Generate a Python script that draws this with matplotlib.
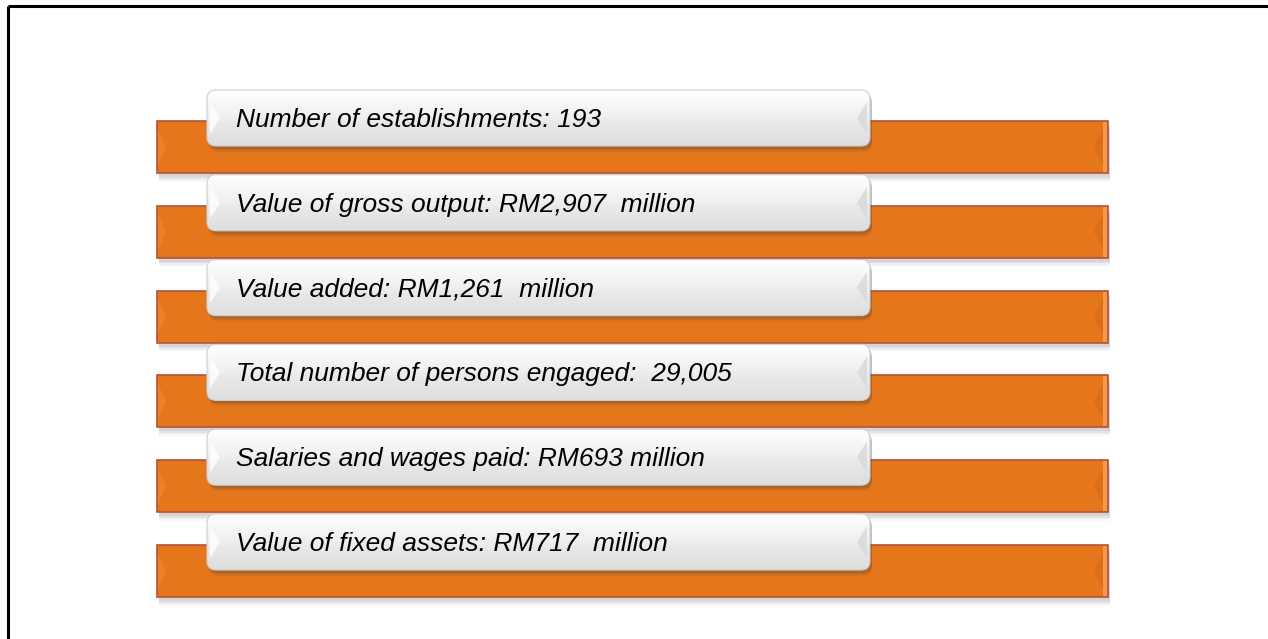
import numpy as np
import matplotlib.pyplot as plt
from matplotlib.patches import FancyBboxPatch, Polygon, Rectangle

# indicator names and the figures shown next to them
items = [
    "Number of establishments",
    "Value of gross output",
    "Value added",
    "Total number of persons engaged",
    "Salaries and wages paid",
    "Value of fixed assets",
]
values = [
    "193",
    "RM2,907  million",
    "RM1,261  million",
    " 29,005",
    "RM693 million",
    "RM717  million",
]

W, H = 1268, 639
fig = plt.figure(figsize=(W / 100, H / 100), dpi=100)
ax = fig.add_axes([0, 0, 1, 1])
ax.set_xlim(0, W)
ax.set_ylim(H, 0)
ax.axis("off")

# frame: top and left lines only
ax.plot([8, W], [6, 6], color="black", lw=2.2, solid_capstyle="butt")
ax.plot([8, 8], [6, H], color="black", lw=2.2, solid_capstyle="butt")

orange = "#E5761B"
step = 84.8
rows = np.arange(len(items))
bar_top = 121 + rows * step
box_top = 90 + rows * step
bar_h, box_h = 52, 56
bar_l, bar_w = 157, 951
box_l, box_w = 207, 663

# soft shadow under the orange bars
for k, a in enumerate([0.10, 0.08, 0.06, 0.04]):
    for t in bar_top:
        ax.add_patch(Rectangle((bar_l + 2, t + 4 + k * 1.5), bar_w, bar_h,
                               color="#606060", alpha=a, lw=0, zorder=1))

ax.barh(bar_top + bar_h / 2, bar_w, left=bar_l, height=bar_h, color=orange,
        edgecolor="#B4533A", linewidth=1.2, zorder=2)

for i, (t, bt) in enumerate(zip(bar_top, box_top)):
    # subtle bevel chevrons on the orange bar ends
    ax.add_patch(Polygon([[bar_l + 1, t + 8], [bar_l + 9, t + bar_h / 2],
                          [bar_l + 1, t + bar_h - 8]], closed=True,
                         color="#EC8027", lw=0, zorder=3))
    ax.add_patch(Rectangle((bar_l + bar_w - 5, t + 1), 4, bar_h - 2,
                           color="#F59A4A", lw=0, zorder=3))
    ax.add_patch(Polygon([[bar_l + bar_w - 5, t + 8], [bar_l + bar_w - 14, t + bar_h / 2],
                          [bar_l + bar_w - 5, t + bar_h - 8]], closed=True,
                         color="#DC6E18", lw=0, zorder=3))

    # shadow of the white box
    for k, a in enumerate([0.18, 0.12, 0.07]):
        ax.add_patch(FancyBboxPatch((box_l + 2, bt + 3 + k * 1.5), box_w, box_h,
                                    boxstyle="round,pad=0,rounding_size=9",
                                    color="#404040", alpha=a, lw=0, zorder=4))
    box = FancyBboxPatch((box_l, bt), box_w, box_h,
                         boxstyle="round,pad=0,rounding_size=9",
                         facecolor="none", edgecolor="#CFCFCF", lw=0.8, zorder=6)
    ax.add_patch(box)
    img = ax.imshow(np.vstack([np.linspace(0.0, 0.55, 40).reshape(-1, 1),
                               np.linspace(0.55, 0.72, 24).reshape(-1, 1)]),
                    cmap="Greys", vmin=0, vmax=3.2, aspect="auto",
                    extent=(box_l, box_l + box_w, bt + box_h, bt), zorder=5)
    img.set_clip_path(box)
    # faint bevel arrows at both ends of the box
    ax.add_patch(Polygon([[box_l + 3, bt + 12], [box_l + 13, bt + box_h / 2],
                          [box_l + 3, bt + box_h - 12]], closed=True,
                         color="white", alpha=0.8, lw=0, zorder=6))
    ax.add_patch(Polygon([[box_l + box_w - 3, bt + 12], [box_l + box_w - 13, bt + box_h / 2],
                          [box_l + box_w - 3, bt + box_h - 12]], closed=True,
                         color="#D8D8D8", alpha=0.8, lw=0, zorder=6))

    ax.text(box_l + 29, bt + box_h / 2 + 2, f"{items[i]}: {values[i]}",
            fontsize=19, style="italic", color="black", va="center", ha="left",
            family="Liberation Sans", zorder=7)

ax.set_xlim(0, W)
ax.set_ylim(H, 0)
fig.savefig("out.png", dpi=100)
